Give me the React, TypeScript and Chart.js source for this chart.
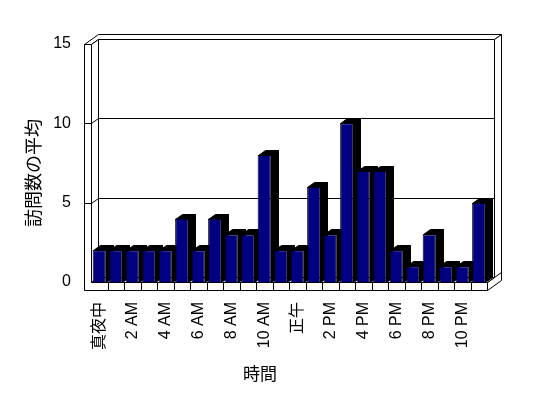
import React, { useEffect, useRef } from "react";
import { Chart, registerables } from "chart.js";

Chart.register(...registerables);

const hourLabels = [
  "真夜中", "1 AM", "2 AM", "3 AM", "4 AM", "5 AM", "6 AM", "7 AM", "8 AM", "9 AM", "10 AM", "11 AM",
  "正午", "1 PM", "2 PM", "3 PM", "4 PM", "5 PM", "6 PM", "7 PM", "8 PM", "9 PM", "10 PM", "11 PM",
];
const avgVisits = [2, 2, 2, 2, 2, 4, 2, 4, 3, 3, 8, 2, 2, 6, 3, 10, 7, 7, 2, 1, 3, 1, 1, 5];
const yTickValues = [0, 5, 10, 15];
const yTitle = "訪問数の平均";
const xTitle = "時間";

const FONT = '"Liberation Sans", Arial, "Noto Sans CJK JP", sans-serif';
const DX = 7;
const DY = -5;
const WALL = 7;
const FLOOR = 8;

const c = (v: number) => Math.round(v) + 0.5;

const frame3d = {
  id: "frame3d",
  beforeDatasetsDraw(chart: any) {
    const { ctx, chartArea: a, scales } = chart;
    const x = scales.x;
    const y = scales.y;
    const L = a.left;
    const R = a.right;
    const yMax = yTickValues[yTickValues.length - 1];
    const T = y.getPixelForValue(yMax);
    const B = y.getPixelForValue(0);
    ctx.save();
    ctx.lineWidth = 1;
    ctx.strokeStyle = "#000";
    const poly = (pts: number[][], fill: string | null, stroke = true) => {
      ctx.beginPath();
      pts.forEach(([px, py], i) => (i ? ctx.lineTo(c(px), c(py)) : ctx.moveTo(c(px), c(py))));
      ctx.closePath();
      if (fill) {
        ctx.fillStyle = fill;
        ctx.fill();
      }
      if (stroke) ctx.stroke();
    };
    const line = (x1: number, y1: number, x2: number, y2: number) => {
      ctx.beginPath();
      ctx.moveTo(c(x1), c(y1));
      ctx.lineTo(c(x2), c(y2));
      ctx.stroke();
    };
    // walls top
    poly(
      [
        [L - WALL, T],
        [L, T],
        [L + DX, T + DY],
        [R + DX, T + DY],
        [R + 2 * DX, T + 2 * DY],
        [L - WALL + 2 * DX, T + 2 * DY],
      ],
      "#fff"
    );
    // right side faces (back wall + floor)
    poly(
      [
        [R, B],
        [R + DX, B + DY],
        [R + DX, T + DY],
        [R + 2 * DX, T + 2 * DY],
        [R + 2 * DX, B + FLOOR + 2 * DY],
        [R, B + FLOOR],
      ],
      "#fff"
    );
    line(R + DX, B + DY, R + 2 * DX, B + 2 * DY);
    // back wall front face
    poly(
      [
        [L + DX, T + DY],
        [R + DX, T + DY],
        [R + DX, B + DY],
        [L + DX, B + DY],
      ],
      "#fff"
    );
    // left wall inner face
    poly(
      [
        [L, T],
        [L + DX, T + DY],
        [L + DX, B + DY],
        [L, B],
      ],
      "#fff"
    );
    // floor top
    poly(
      [
        [L, B],
        [L + DX, B + DY],
        [R + DX, B + DY],
        [R, B],
      ],
      "#fff"
    );
    // left wall front + floor front
    poly(
      [
        [L - WALL, T],
        [L, T],
        [L, B],
        [R, B],
        [R, B + FLOOR],
        [L - WALL, B + FLOOR],
      ],
      "#fff"
    );
    // gridlines
    yTickValues.forEach((v) => {
      if (v === 0 || v === yMax) return;
      const py = y.getPixelForValue(v);
      line(L - WALL, py, L, py);
      line(L, py, L + DX, py + DY);
      line(L + DX, py + DY, R + DX, py + DY);
    });
    // floor dividers
    for (let i = 1; i < hourLabels.length; i++) {
      const bx = (x.getPixelForValue(i - 1) + x.getPixelForValue(i)) / 2;
      line(bx, B, bx, B + FLOOR);
    }
    // bar extrusions
    const meta = chart.getDatasetMeta(0);
    ctx.fillStyle = "#000";
    meta.data.forEach((el: any) => {
      const w = el.width;
      const xl = el.x - w / 2;
      const xr = el.x + w / 2;
      const ty = el.y;
      const base = el.base;
      poly(
        [
          [xl, ty],
          [xr, ty],
          [xr + DX, ty + DY],
          [xl + DX, ty + DY],
        ],
        "#000"
      );
      poly(
        [
          [xr, ty],
          [xr + DX, ty + DY],
          [xr + DX, base + DY],
          [xr, base],
        ],
        "#000"
      );
    });
    ctx.restore();
  },
  afterDraw(chart: any) {
    const { ctx } = chart;
    ctx.save();
    ctx.fillStyle = "#000";
    ctx.textAlign = "center";
    ctx.textBaseline = "middle";
    ctx.font = `18px ${FONT}`;
    ctx.translate(35, 173);
    ctx.rotate(-Math.PI / 2);
    ctx.fillText(yTitle, 0, 0);
    ctx.restore();
    ctx.save();
    ctx.fillStyle = "#000";
    ctx.textAlign = "center";
    ctx.textBaseline = "middle";
    ctx.font = `17px ${FONT}`;
    ctx.fillText(xTitle, 260, 375);
    ctx.restore();
  },
};

export default function App() {
  const ref = useRef<HTMLCanvasElement>(null);
  useEffect(() => {
    document.body.style.margin = "0";
    const canvas = ref.current;
    if (!canvas) return;
    const chart = new Chart(canvas, {
      type: "bar",
      data: {
        labels: hourLabels,
        datasets: [
          {
            data: avgVisits,
            backgroundColor: "#000080",
            borderColor: "#000000",
            borderWidth: 1,
            categoryPercentage: 1,
            barPercentage: 0.8,
          },
        ],
      },
      options: {
        responsive: false,
        devicePixelRatio: 1,
        animation: false,
        layout: { padding: { left: 0, top: 44, right: 61, bottom: 0 } },
        plugins: { legend: { display: false }, tooltip: { enabled: false }, title: { display: false } },
        scales: {
          x: {
            grid: { display: false, drawTicks: false },
            border: { display: false },
            ticks: {
              autoSkip: false,
              minRotation: 90,
              maxRotation: 90,
              padding: 20,
              color: "#000",
              font: { family: FONT, size: 16 },
              callback: (_v: any, i: number) => (i % 2 === 0 ? hourLabels[i] : ""),
            },
            afterFit: (s: any) => {
              s.height = 116;
            },
          },
          y: {
            min: 0,
            max: 15,
            grid: { display: false, drawTicks: false },
            border: { display: false },
            afterBuildTicks: (s: any) => {
              s.ticks = yTickValues.map((v) => ({ value: v }));
            },
            ticks: {
              padding: 20,
              color: "#000",
              font: { family: FONT, size: 16 },
            },
            afterFit: (s: any) => {
              s.width = 91;
            },
          },
        },
      },
      plugins: [frame3d],
    });
    return () => chart.destroy();
  }, []);
  return <canvas ref={ref} width={548} height={398} style={{ display: "block" }} />;
}
